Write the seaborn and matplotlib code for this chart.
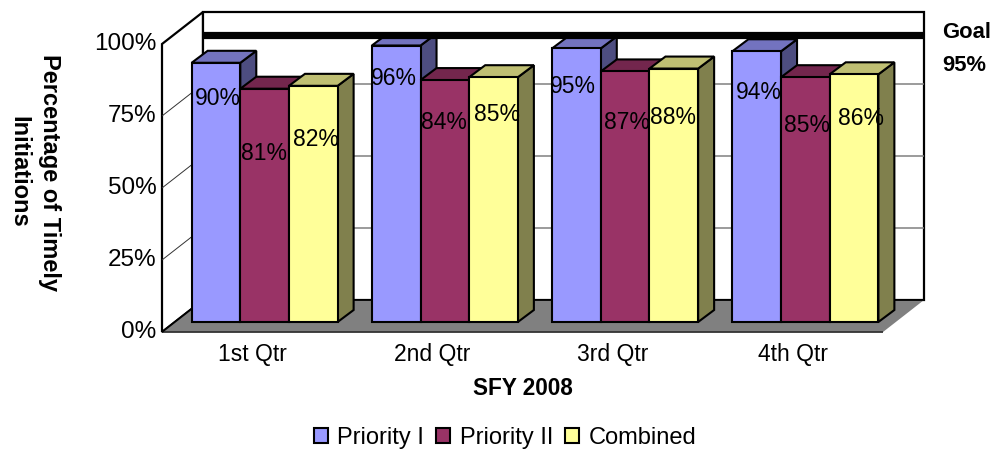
import matplotlib
matplotlib.use("Agg")
import matplotlib.pyplot as plt
import pandas as pd
import seaborn as sns
from matplotlib.colors import to_rgb
from matplotlib.patches import Polygon
from matplotlib.transforms import Affine2D, IdentityTransform

quarters = ["1st Qtr", "2nd Qtr", "3rd Qtr", "4th Qtr"]
priority_1 = [90, 96, 95, 94]
priority_2 = [81, 84, 87, 85]
combined = [82, 85, 88, 86]
series_names = ["Priority I", "Priority II", "Combined"]
y_ticks = [0, 25, 50, 75, 100]
goal_label = "Goal\n95%"
goal_drawn_at = 92  # the goal bar sits here on the back wall in the original

colors = ["#9999FF", "#993366", "#FFFF99"]

# fake 3d, all in pixels
W, H = 993, 449
BACK = (41, 32)
BAR_SHIFT = (12.5, 10)
BAR_DEPTH = (16, 12)

# label nudges from top centre of each bar, the originals were placed by hand
label_dx = [2, -1, 3, -2, -1, 3, -4, 2, -1, 2, 2, 7]
label_dy = [36, 65, 54, 33, 42, 37, 38, 51, 49, 41, 48, 44]

df = pd.DataFrame({
    "quarter": quarters * 3,
    "series": [s for s in series_names for _ in quarters],
    "value": priority_1 + priority_2 + combined,
})

sns.set_theme(style="white")
plt.rcParams["font.family"] = ["Liberation Sans", "DejaVu Sans"]

fig = plt.figure(figsize=(W / 100, H / 100), dpi=100)
ax = fig.add_axes([162 / W, (H - 332) / H, 721 / W, 288 / H])
ax.patch.set_visible(False)

sns.barplot(data=df, x="quarter", y="value", hue="series", hue_order=series_names,
            palette=colors, saturation=1, width=0.81, gap=0,
            edgecolor="black", linewidth=1.5, errorbar=None, ax=ax)
ax.set_xlim(-0.5, 3.5)
ax.set_ylim(0, 100)
sns.despine(ax=ax, left=True, bottom=True)
bars = sorted([b for b in ax.patches if b.get_height() > 0], key=lambda b: b.get_x())


def px(x, y, off=(0, 0)):
    a, b = ax.transData.transform((x, y))
    return (a + off[0], b + off[1])


def shape(points, **kw):
    p = Polygon(points, closed=True, transform=IdentityTransform(), clip_on=False, **kw)
    ax.add_patch(p)
    return p


def line(points, color, lw, z, cap="butt"):
    xs = [p[0] for p in points]
    ys = [p[1] for p in points]
    ax.plot(xs, ys, color=color, lw=lw, zorder=z, transform=IdentityTransform(),
            clip_on=False, solid_capstyle=cap, scalex=False, scaley=False)


# walls and floor
x0, x1 = ax.get_xlim()
shape([px(x0, 100), px(x0, 100, BACK), px(x0, 0, BACK), px(x0, 0)],
      facecolor="white", edgecolor="black", lw=1.6, zorder=0.5)
shape([px(x0, 100, BACK), px(x1, 100, BACK), px(x1, 0, BACK), px(x0, 0, BACK)],
      facecolor="white", edgecolor="black", lw=1.6, zorder=0.5)
for t in y_ticks[1:-1]:
    line([px(x0, t, BACK), px(x1, t, BACK)], "#808080", 1.1, 0.7)
    line([px(x0, t), px(x0, t, BACK)], "#333333", 0.7, 0.7)
shape([px(x0, 0), px(x0, 0, BACK), px(x1, 0, BACK), px(x1, 0)],
      facecolor="#808080", edgecolor="none", zorder=0.8)
line([px(x0, 0, BACK), px(x1, 0, BACK)], "black", 1.3, 0.9)
line([px(x0, 0), px(x1, 0)], "#333333", 1.3, 0.9)
line([px(x0, 0), px(x0, 0, BACK)], "black", 1.3, 0.9)

# bar sides and tops, left to right so the next bar covers the last one
shift = Affine2D().translate(*BAR_SHIFT)
for i, b in enumerate(bars):
    z = 2 + i * 0.1
    xl, xr, h = b.get_x(), b.get_x() + b.get_width(), b.get_height()
    base = to_rgb(b.get_facecolor()[:3])
    a = px(xl, h, BAR_SHIFT)
    c = px(xr, h, BAR_SHIFT)
    d = px(xr, 0, BAR_SHIFT)
    up = lambda p: (p[0] + BAR_DEPTH[0], p[1] + BAR_DEPTH[1])
    shape([c, up(c), up(d), d], facecolor=[v * 0.5 for v in base], edgecolor="black",
          lw=1.5, joinstyle="miter", zorder=z)
    shape([a, up(a), up(c), c], facecolor=[v * 0.75 for v in base], edgecolor="black",
          lw=1.5, joinstyle="miter", zorder=z)
    b.set_transform(ax.transData + shift)
    b.set_clip_on(False)
    b.set_zorder(z + 0.01)

# goal bar runs over the bar tops
line([px(x0, goal_drawn_at, BACK), px(x1, goal_drawn_at, BACK)], "black", 5.2, 5)

for i, b in enumerate(bars):
    top = px(b.get_x() + b.get_width() / 2, b.get_height(), BAR_SHIFT)
    ax.annotate(f"{b.get_height():.0f}%", xy=top, xycoords="figure pixels",
                xytext=(label_dx[i] * 0.72, -label_dy[i] * 0.72), textcoords="offset points",
                ha="center", va="center", fontsize=16.5, color="black", zorder=6,
                annotation_clip=False)

ax.set_yticks(y_ticks)
ax.set_yticklabels([f"{t}%" for t in y_ticks], fontsize=17.5, color="black")
ax.tick_params(axis="y", length=0, pad=4)
ax.tick_params(axis="x", length=0, pad=8, labelsize=16.5, labelcolor="black")
for lab in ax.get_yticklabels():
    lab.set_transform(lab.get_transform() + Affine2D().translate(0, 2))
ax.set_xlabel("SFY 2008", fontsize=16.3, fontweight="bold", color="black", labelpad=8)
ax.set_ylabel("")
fig.text(34 / W, (H - 172) / H, "Percentage of Timely\nInitiations", rotation=270,
         ha="center", va="center", multialignment="center", fontsize=17,
         fontweight="bold", color="black", linespacing=1.4)
fig.text(942 / W, (H - 49) / H, goal_label, ha="left", va="center", fontsize=15.8,
         fontweight="bold", color="black", linespacing=1.7)

sns.move_legend(ax, "center", bbox_to_anchor=(505 / W, (H - 438) / H),
                bbox_transform=fig.transFigure, ncol=3, frameon=False, title=None,
                fontsize=17, handlelength=0.6, handleheight=0.6, handletextpad=0.4,
                columnspacing=0.5, borderpad=0, labelcolor="black")

fig.savefig("out.png", dpi=100)
